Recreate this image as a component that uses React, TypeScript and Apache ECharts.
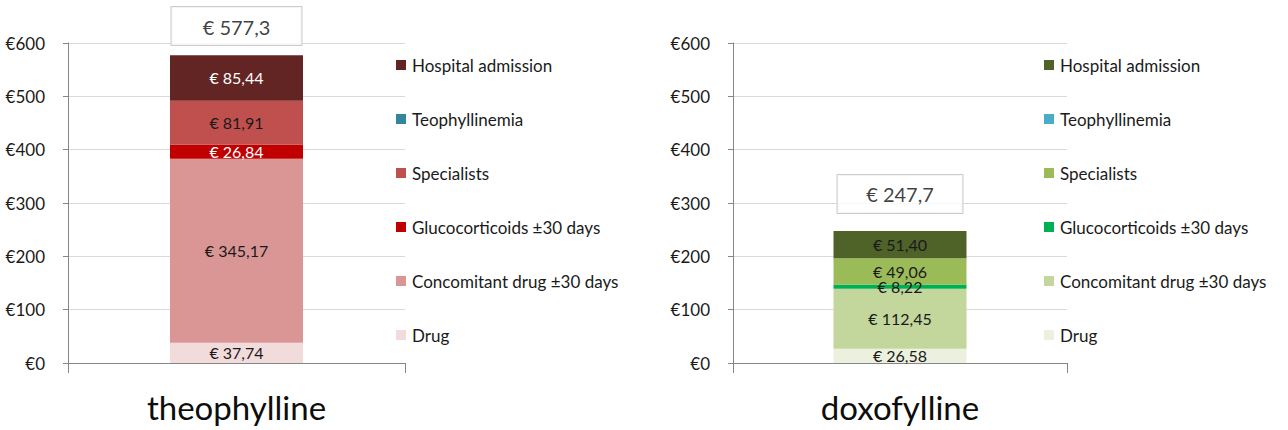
import React, { useEffect, useRef } from "react";
import * as echarts from "echarts";

const categories = ["theophylline", "doxofylline"];
const seriesNames = [
  "Drug",
  "Concomitant drug ±30 days",
  "Glucocorticoids ±30 days",
  "Specialists",
  "Teophyllinemia",
  "Hospital admission",
];
const legendOrder = [
  "Hospital admission",
  "Teophyllinemia",
  "Specialists",
  "Glucocorticoids ±30 days",
  "Concomitant drug ±30 days",
  "Drug",
];
const theophyllineValues = [37.74, 345.17, 26.84, 81.91, 0, 85.44];
const doxofyllineValues = [26.58, 112.45, 8.22, 49.06, 0, 51.4];
const totals = [577.3, 247.7];
const yMin = 0;
const yMax = 600;
const yInterval = 100;

const theophyllineColors = ["#F2DCDB", "#D99694", "#C00000", "#C0504D", "#31859C", "#632523"];
const doxofyllineColors = ["#EBF1DE", "#C3D69B", "#00B050", "#9BBB59", "#4BACC6", "#4F6228"];
const theophyllineLabelColors = ["#1A1A1A", "#1A1A1A", "#FFFFFF", "#1A1A1A", "#1A1A1A", "#FFFFFF"];
const doxofyllineLabelColors = ["#1A1A1A", "#1A1A1A", "#1A1A1A", "#1A1A1A", "#1A1A1A", "#1A1A1A"];

const FONT = "Lato, 'Open Sans', sans-serif";

function fmt(v: number, d: number) {
  return "€ " + v.toFixed(d).replace(".", ",");
}

type Cfg = {
  category: string;
  values: number[];
  total: number;
  colors: string[];
  labelColors: string[];
  gridLeft: number;
  gridRight: number;
  legendLeft: number;
  totalDistance: number;
  totalWidth: number;
};

function buildOption(c: Cfg) {
  const series: any[] = seriesNames.map((name, i) => ({
    name,
    type: "bar",
    stack: "total",
    barWidth: 133,
    data: [c.values[i]],
    itemStyle: { color: c.colors[i] },
    label: {
      show: c.values[i] > 0,
      position: "inside",
      formatter: (p: any) => fmt(p.value, 2),
      color: c.labelColors[i],
      fontFamily: FONT,
      fontSize: 16,
    },
  }));
  series.push({
    name: "Total",
    type: "scatter",
    data: [c.total],
    symbolSize: 0,
    silent: true,
    label: {
      show: true,
      position: "top",
      distance: c.totalDistance,
      formatter: (p: any) => fmt(p.value, 1),
      color: "#0D0D0D",
      fontFamily: FONT,
      fontSize: 20,
      backgroundColor: "#FFFFFF",
      borderColor: "#BFBFBF",
      borderWidth: 1,
      width: c.totalWidth,
      height: 21,
      lineHeight: 21,
      align: "center",
      padding: [9, 0, 8, 0],
    },
  });
  return {
    animation: false,
    backgroundColor: "#FFFFFF",
    grid: { left: c.gridLeft, right: c.gridRight, top: 43, bottom: 67 },
    legend: {
      orient: "vertical",
      left: c.legendLeft,
      top: 55,
      padding: 0,
      data: legendOrder,
      icon: "rect",
      itemWidth: 10,
      itemHeight: 10,
      itemGap: 34,
      itemStyle: { borderWidth: 0 },
      textStyle: {
        fontFamily: FONT,
        fontSize: 17,
        color: "#1A1A1A",
        lineHeight: 20,
        padding: [0, 0, 0, 1],
      },
      selectedMode: false,
    },
    xAxis: {
      type: "category",
      data: [c.category],
      boundaryGap: true,
      axisLine: { show: true, lineStyle: { color: "#868686" } },
      axisTick: { show: true, length: 10, alignWithLabel: false, lineStyle: { color: "#868686" } },
      axisLabel: { fontFamily: FONT, fontSize: 33, color: "#0D0D0D", margin: 27 },
    },
    yAxis: {
      type: "value",
      min: yMin,
      max: yMax,
      interval: yInterval,
      axisLine: { show: true, lineStyle: { color: "#868686" } },
      axisTick: { show: true, length: 5, lineStyle: { color: "#868686" } },
      splitLine: { show: true, lineStyle: { color: "#D9D9D9" } },
      axisLabel: {
        formatter: "€{value}",
        fontFamily: FONT,
        fontSize: 17,
        color: "#1A1A1A",
        margin: 23,
      },
    },
    series,
  };
}

function Chart({ cfg, left }: { cfg: Cfg; left: number }) {
  const ref = useRef<HTMLDivElement>(null);
  useEffect(() => {
    if (!ref.current) return;
    const chart = echarts.init(ref.current, undefined, { renderer: "svg" });
    chart.setOption(buildOption(cfg));
    return () => chart.dispose();
  }, []);
  return (
    <div
      ref={ref}
      style={{ position: "absolute", left, top: 0, width: 644, height: 430 }}
    />
  );
}

export default function App() {
  const c1: Cfg = {
    category: categories[0],
    values: theophyllineValues,
    total: totals[0],
    colors: theophyllineColors,
    labelColors: theophyllineLabelColors,
    gridLeft: 68,
    gridRight: 239,
    legendLeft: 396,
    totalDistance: 10,
    totalWidth: 130,
  };
  const c2: Cfg = {
    category: categories[1],
    values: doxofyllineValues,
    total: totals[1],
    colors: doxofyllineColors,
    labelColors: doxofyllineLabelColors,
    gridLeft: 89,
    gridRight: 221,
    legendLeft: 400,
    totalDistance: 18,
    totalWidth: 125,
  };
  return (
    <div
      style={{
        position: "fixed",
        left: 0,
        top: 0,
        width: 1288,
        height: 430,
        background: "#FFFFFF",
        overflow: "hidden",
      }}
    >
      <Chart cfg={c1} left={0} />
      <Chart cfg={c2} left={644} />
    </div>
  );
}
